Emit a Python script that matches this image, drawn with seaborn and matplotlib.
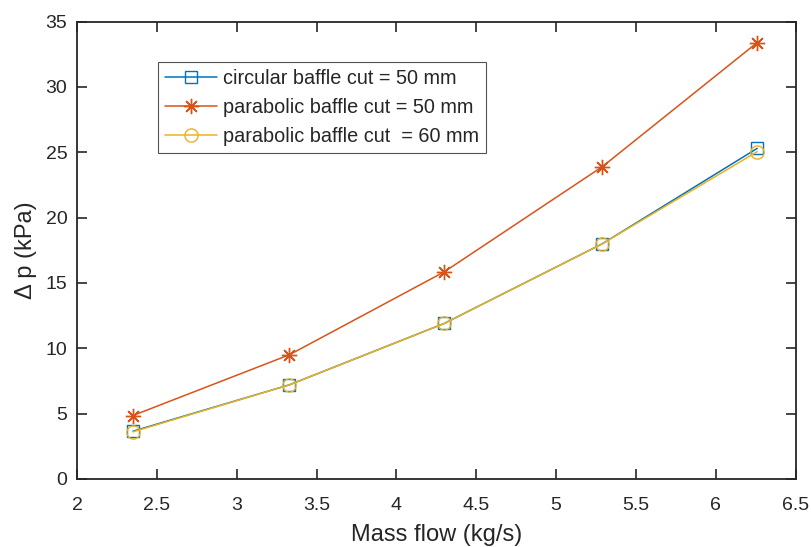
import matplotlib
matplotlib.use("Agg")
import matplotlib.pyplot as plt
import seaborn as sns
import pandas as pd

mass_flow = [2.35, 3.33, 4.30, 5.29, 6.26]
circ_50 = [3.65, 7.2, 11.9, 18.0, 25.3]
para_50 = [4.85, 9.5, 15.85, 23.9, 33.4]
para_60 = [3.6, 7.2, 11.9, 18.0, 25.05]
labels = ["circular baffle cut = 50 mm", "parabolic baffle cut = 50 mm", "parabolic baffle cut  = 60 mm"]

sns.set_theme(style="ticks")
plt.rcParams['font.family'] = ['Liberation Sans', 'DejaVu Sans']

fig = plt.figure(figsize=(8.11, 5.47), dpi=100)
ax = fig.add_axes([0.095, 0.1245, 0.886, 0.836])

colors = ["#0072BD", "#D95319", "#EDB120"]
markers = ["s", (8, 2, 0), "o"]
series = [circ_50, para_50, para_60]
for vals, lab, c, m in zip(series, labels, colors, markers):
    df = pd.DataFrame({"x": mass_flow, "y": vals})
    if m == (8, 2, 0):
        kw = dict(markeredgecolor=c, markersize=11, markeredgewidth=1.0)
    elif m == "s":
        kw = dict(markerfacecolor="none", markeredgecolor=c, markersize=8, markeredgewidth=1.0)
    else:
        kw = dict(markerfacecolor="none", markeredgecolor=c, markersize=9.5, markeredgewidth=1.0)
    sns.lineplot(data=df, x="x", y="y", ax=ax, color=c, marker=m, linewidth=1.1, label=lab, **kw)

ax.set_xlim(2, 6.5)
ax.set_ylim(0, 35)
ax.set_xticks([2, 2.5, 3, 3.5, 4, 4.5, 5, 5.5, 6, 6.5])
ax.set_xticklabels(["2", "2.5", "3", "3.5", "4", "4.5", "5", "5.5", "6", "6.5"])
ax.set_yticks(range(0, 36, 5))
ax.tick_params(direction="in", length=7, width=1.2, labelsize=14, colors="#262626", top=True, right=True)
ax.tick_params(axis="x", pad=13)
ax.tick_params(axis="y", pad=7)
for s in ax.spines.values():
    s.set_linewidth(1.3)
    s.set_color("#262626")
ax.set_xlabel("Mass flow (kg/s)", fontsize=17, color="#262626", labelpad=7)
ax.set_ylabel("Δ p (kPa)", fontsize=17, color="#262626", labelpad=6)

leg = ax.legend(loc="upper left", bbox_to_anchor=(0.113, 0.912), fontsize=14.3, frameon=True,
                fancybox=False, edgecolor="#262626", borderpad=0.35, handlelength=2.6,
                labelspacing=0.5, handletextpad=0.3, borderaxespad=0)
leg.get_frame().set_linewidth(0.8)

fig.savefig("out.png", dpi=100)
